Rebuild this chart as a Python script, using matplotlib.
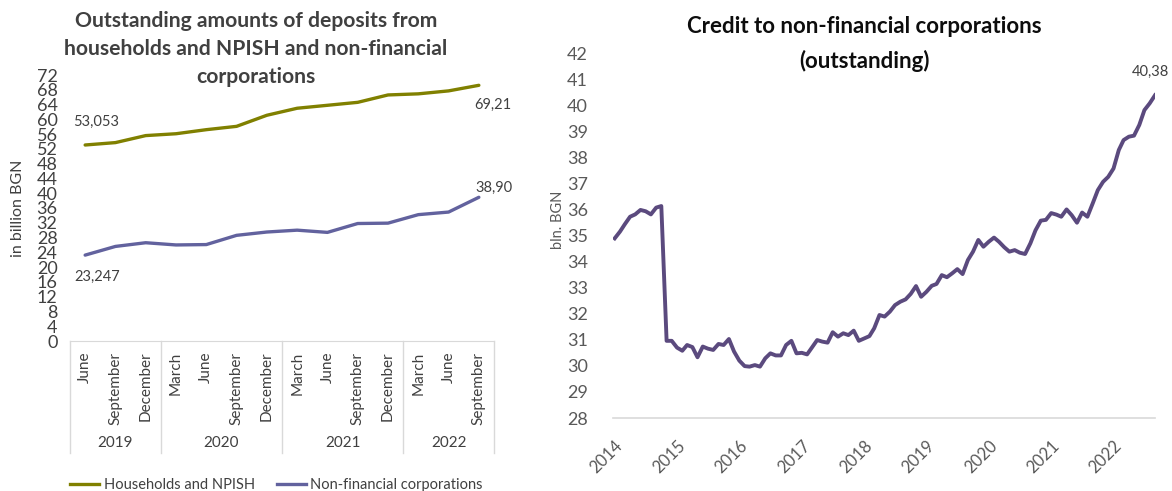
import matplotlib
matplotlib.use('Agg')
import matplotlib.pyplot as plt
import matplotlib.dates as mdates
from matplotlib.lines import Line2D
import pandas as pd

plt.rcParams['font.family'] = ['Lato', 'DejaVu Sans']

# --- deposits, quarterly (bn BGN) ---
months = ['June', 'September', 'December',
          'March', 'June', 'September', 'December',
          'March', 'June', 'September', 'December',
          'March', 'June', 'September']
years = ['2019', '2020', '2021', '2022']
year_sizes = [3, 4, 4, 3]
households = [53.053, 53.7, 55.6, 56.1, 57.2, 58.1, 61.1, 63.0, 63.8, 64.6,
              66.6, 66.9, 67.7, 69.21]
nfc_deposits = [23.247, 25.6, 26.6, 26.0, 26.1, 28.6, 29.5, 30.0, 29.4, 31.8,
                31.9, 34.2, 34.9, 38.90]

# --- credit to non-financial corporations, monthly (bn BGN) ---
credit = [34.89, 35.15, 35.43, 35.72, 35.81, 35.98, 35.93, 35.81, 36.07, 36.13, 30.96, 30.96,
          30.70, 30.58, 30.80, 30.72, 30.33, 30.74, 30.66, 30.61, 30.84, 30.80, 31.03, 30.55,
          30.20, 29.99, 29.97, 30.03, 29.97, 30.29, 30.48, 30.40, 30.40, 30.80, 30.96, 30.48,
          30.50, 30.44, 30.70, 30.99, 30.93, 30.89, 31.29, 31.12, 31.25, 31.18, 31.35, 30.96,
          31.05, 31.14, 31.44, 31.95, 31.89, 32.08, 32.33, 32.46, 32.55, 32.76, 33.06, 32.65,
          32.84, 33.07, 33.14, 33.48, 33.40, 33.55, 33.71, 33.52, 34.06, 34.38, 34.83, 34.57,
          34.76, 34.92, 34.76, 34.55, 34.38, 34.44, 34.34, 34.29, 34.70, 35.20, 35.57, 35.60,
          35.86, 35.80, 35.72, 36.00, 35.78, 35.49, 35.88, 35.72, 36.23, 36.74, 37.06, 37.25,
          37.57, 38.28, 38.66, 38.79, 38.83, 39.24, 39.81, 40.07, 40.38]
credit_dates = pd.date_range('2014-01-01', periods=len(credit), freq='MS')

OLIVE = '#808000'
SLATE = '#62629e'
PURPLE = '#5b4a7e'
TXT = '#404040'
GRID = '#d9d9d9'

fig = plt.figure(figsize=(11.72, 4.91), dpi=100)

# ================= left chart =================
ax1 = fig.add_axes([70 / 1172, 1 - 341 / 491, 424 / 1172, 266 / 491])
x = list(range(len(months)))
ax1.plot(x, households, color=OLIVE, lw=2.4, solid_capstyle='round')
ax1.plot(x, nfc_deposits, color=SLATE, lw=2.4, solid_capstyle='round')
ax1.set_xlim(-0.5, len(months) - 0.5)
ax1.set_ylim(0, 72)
ax1.set_yticks(range(0, 73, 4))
ax1.tick_params(axis='y', length=0, labelsize=13, labelcolor=TXT, pad=9)
ax1.set_xticks([])
for s in ['top', 'right', 'left']:
    ax1.spines[s].set_visible(False)
ax1.spines['bottom'].set_color(GRID)
ax1.set_ylabel('in billion BGN', fontsize=11.5, color=TXT, labelpad=8)

# data labels at both ends
ax1.text(0.35, households[0] + 6.2, f'{households[0]:.3f}'.replace('.', ','),
         ha='center', va='center', fontsize=10.5, color=TXT)
ax1.text(13.45, households[-1] - 5.2, f'{households[-1]:.2f}'.replace('.', ','),
         ha='center', va='center', fontsize=10.5, color=TXT)
ax1.text(0.4, nfc_deposits[0] - 5.8, f'{nfc_deposits[0]:.3f}'.replace('.', ','),
         ha='center', va='center', fontsize=10.5, color=TXT)
ax1.text(13.5, nfc_deposits[-1] + 2.6, f'{nfc_deposits[-1]:.2f}'.replace('.', ','),
         ha='center', va='center', fontsize=10.5, color=TXT)

# multi-level category axis: months, then years with separators
tr = ax1.get_xaxis_transform()
for i, m in enumerate(months):
    ax1.text(i, -0.04, m, rotation=90, ha='center', va='top',
             fontsize=11, color=TXT, transform=tr)
edge = -0.5
for yr, n in zip(years, year_sizes):
    ax1.plot([edge, edge], [0, -0.42], color=GRID, lw=1, transform=tr, clip_on=False)
    ax1.text(edge + n / 2, -0.383, yr, ha='center', va='center',
             fontsize=11, color=TXT, transform=tr)
    edge += n
ax1.plot([edge, edge], [0, -0.42], color=GRID, lw=1, transform=tr, clip_on=False)

fig.text(256 / 1172, 1 - 49 / 491,
         'Outstanding amounts of deposits from\nhouseholds and NPISH and non-financial\ncorporations',
         ha='center', va='center', fontsize=15.2, fontweight='bold', color=TXT,
         linespacing=1.48)

handles = [Line2D([], [], color=OLIVE, lw=2.4), Line2D([], [], color=SLATE, lw=2.4)]
fig.legend(handles, ['Households and NPISH', 'Non-financial corporations'],
           loc='center left', bbox_to_anchor=(70 / 1172, 1 - 485 / 491), ncol=2,
           frameon=False, fontsize=10.5, handlelength=2.0, handletextpad=0.3,
           columnspacing=1.5, borderpad=0, borderaxespad=0, labelcolor=TXT)

# ================= right chart =================
ax2 = fig.add_axes([613 / 1172, 1 - 418 / 491, 542 / 1172, 365 / 491])
ax2.plot(credit_dates, credit, color=PURPLE, lw=2.8, solid_joinstyle='round')
ax2.set_ylim(28, 42)
ax2.set_yticks(range(28, 43))
ax2.set_xlim(pd.Timestamp('2013-12-22'), credit_dates[-1])
ax2.xaxis.set_major_locator(mdates.YearLocator())
ax2.xaxis.set_major_formatter(mdates.DateFormatter('%Y'))
ax2.tick_params(axis='y', length=0, labelsize=13, labelcolor='#595959', pad=18)
ax2.tick_params(axis='x', length=0, labelsize=12, labelcolor='#595959', pad=14)
plt.setp(ax2.get_xticklabels(), rotation=45, ha='right', rotation_mode='anchor')
for s in ['top', 'right', 'left']:
    ax2.spines[s].set_visible(False)
ax2.spines['bottom'].set_color(GRID)
ax2.spines['bottom'].set_linewidth(1.2)
ax2.set_ylabel('bln. BGN', fontsize=10.5, color='#595959')
ax2.yaxis.set_label_coords(-0.089, 0.542)
ax2.text(credit_dates[-1] - pd.Timedelta(days=25), credit[-1] + 0.9,
         f'{credit[-1]:.2f}'.replace('.', ','), ha='center', va='center',
         fontsize=10.5, color=TXT, clip_on=False)

fig.text(864 / 1172, 1 - 44 / 491,
         'Credit to non-financial corporations\n(outstanding)',
         ha='center', va='center', fontsize=16, fontweight='bold', color='#0d0d0d',
         linespacing=1.75)

fig.savefig('out.png', dpi=100)
